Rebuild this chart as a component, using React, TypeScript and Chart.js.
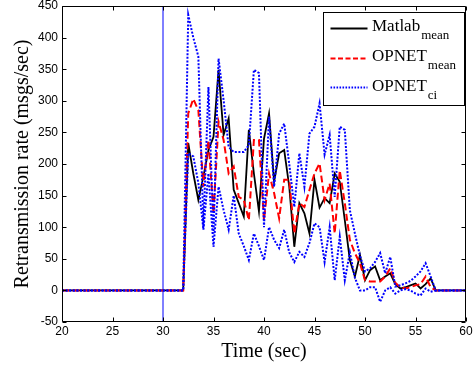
import React, { useEffect, useRef } from "react";
import { Chart, registerables } from "chart.js";

Chart.register(...registerables);

// Time axis (sec)
const times = [
  20, 32, 32.5, 33, 33.5, 34, 34.5, 35, 35.5, 36, 36.5, 37, 37.5, 38, 38.5, 39, 39.5,
  40, 40.5, 41, 41.5, 42, 42.5, 43, 43.5, 44, 44.5, 45, 45.5, 46, 46.5, 47, 47.5,
  48, 48.5, 49, 49.5, 50, 50.5, 51, 51.5, 52, 52.5, 53, 53.5, 54, 54.5, 55, 55.5,
  56, 56.5, 57, 60,
];

const matlabMean = [
  0, 0, 233, 185, 143, 180, 222, 243, 349, 246, 272, 159, 138, 117, 254, 185, 125,
  240, 280, 172, 217, 222, 164, 69, 138, 122, 90, 175, 131, 146, 138, 185, 172,
  111, 48, 22, 56, 16, 32, 38, 16, 22, 27, 10, 3, 5, 8, 11, 3, 10, 19, 0, 0,
];

const opnetMean = [
  0, 0, 280, 303, 285, 164, 238, 122, 267, 238, 185, 196, 148, 143, 111, 238, 238,
  111, 185, 154, 114, 175, 175, 90, 138, 132, 159, 185, 201, 143, 169, 90, 190,
  138, 80, 59, 43, 16, 14, 14, 14, 22, 35, 12, 5, 3, 5, 8, 10, 22, 5, 0, 0,
];

const opnetCiUpper = [
  0, 0, 436, 400, 370, 100, 322, 90, 367, 301, 227, 219, 219, 219, 230, 349, 344,
  100, 275, 164, 248, 264, 200, 132, 217, 164, 248, 259, 296, 215, 246, 148, 259,
  254, 127, 90, 55, 30, 35, 45, 59, 27, 53, 6, 8, 11, 15, 22, 30, 43, 22, 0, 0,
];

const opnetCiLower = [
  0, 0, 217, 212, 170, 96, 185, 69, 164, 127, 96, 150, 90, 70, 48, 90, 70,
  48, 100, 80, 67, 96, 60, 45, 61, 53, 75, 106, 100, 45, 100, 16, 85,
  16, 60, 20, 0, 0, 5, 5, -18, 0, 5, -5, 0, 2, 0, -5, -8, 3, -2, 0, 0,
];

// Vertical marker at t = 30 s
const markerTime = [30, 30];
const markerValue = [-50, 450];

const xTicks = [20, 25, 30, 35, 40, 45, 50, 55, 60];
const yTicks = [-50, 0, 50, 100, 150, 200, 250, 300, 350, 400, 450];

const legendNames = ["Matlab", "OPNET", "OPNET"];
const legendSubs = ["mean", "mean", "ci"];
const legendColors = ["#000000", "#ff0000", "#0000ff"];
const legendDashes = [[], [5, 2.5], [1.6, 1.4]];

export default function App() {
  const ref = useRef<HTMLCanvasElement>(null);

  useEffect(() => {
    document.body.style.margin = "0";
    const canvas = ref.current;
    if (!canvas) return;

    const pts = (ys: number[]) => times.map((t, i) => ({ x: t, y: ys[i] }));

    const boxPlugin = {
      id: "matlabBox",
      afterDatasetsDraw(chart: any) {
        const { ctx, chartArea: a, scales } = chart;
        const L = Math.round(a.left) + 0.5;
        const R = Math.round(a.right) - 0.5;
        const T = Math.round(a.top) + 0.5;
        const B = Math.round(a.bottom) - 0.5;
        ctx.save();
        ctx.strokeStyle = "#000";
        ctx.lineWidth = 1;
        ctx.setLineDash([]);
        ctx.beginPath();
        ctx.moveTo(L, T);
        ctx.lineTo(R, T);
        ctx.lineTo(R, B);
        ctx.lineTo(L, B);
        ctx.closePath();
        ctx.stroke();
        const tl = 4;
        ctx.beginPath();
        xTicks.forEach((v) => {
          const px = Math.round(scales.x.getPixelForValue(v)) + 0.5;
          ctx.moveTo(px, B);
          ctx.lineTo(px, B - tl);
          ctx.moveTo(px, T);
          ctx.lineTo(px, T + tl);
        });
        yTicks.forEach((v) => {
          const py = Math.round(scales.y.getPixelForValue(v)) + 0.5;
          ctx.moveTo(L, py);
          ctx.lineTo(L + tl, py);
          ctx.moveTo(R, py);
          ctx.lineTo(R - tl, py);
        });
        ctx.stroke();

        // Legend
        const x0 = Math.round(a.right) - 143 + 0.5;
        const y0 = Math.round(a.top) + 6.5;
        const w = 141;
        const h = 93;
        ctx.fillStyle = "#fff";
        ctx.fillRect(x0, y0, w, h);
        ctx.strokeStyle = "#000";
        ctx.lineWidth = 1;
        ctx.strokeRect(x0, y0, w, h);
        const rowLine = [16, 46, 75];
        const rowBase = [18.5, 48.5, 78.5];
        legendNames.forEach((name, i) => {
          ctx.save();
          ctx.strokeStyle = legendColors[i];
          ctx.lineWidth = i === 0 ? 1.8 : 2;
          ctx.setLineDash(legendDashes[i]);
          ctx.beginPath();
          ctx.moveTo(x0 + 7, y0 + rowLine[i]);
          ctx.lineTo(x0 + 44, y0 + rowLine[i]);
          ctx.stroke();
          ctx.restore();
          ctx.fillStyle = "#000";
          ctx.textAlign = "left";
          ctx.textBaseline = "alphabetic";
          ctx.font = "17px 'Liberation Serif'";
          const tx = x0 + 48.5;
          ctx.fillText(name, tx, y0 + rowBase[i]);
          const tw = ctx.measureText(name).width;
          ctx.font = "13px 'Liberation Serif'";
          ctx.fillText(legendSubs[i], tx + tw + 1, y0 + rowBase[i] + 7.5);
        });
        ctx.restore();
      },
    };

    const chart = new Chart(canvas, {
      type: "line",
      data: {
        datasets: [
          {
            label: "OPNET_ci upper",
            data: pts(opnetCiUpper),
            borderColor: "#0000ff",
            borderWidth: 2,
            borderDash: [2, 1.6],
            pointRadius: 0,
            tension: 0,
            order: 0,
          },
          {
            label: "OPNET_ci lower",
            data: pts(opnetCiLower),
            borderColor: "#0000ff",
            borderWidth: 2,
            borderDash: [2, 1.6],
            pointRadius: 0,
            tension: 0,
            order: 0,
          },
          {
            label: "OPNET_mean",
            data: pts(opnetMean),
            borderColor: "#ff0000",
            borderWidth: 2,
            borderDash: [7, 3.5],
            pointRadius: 0,
            tension: 0,
            order: 1,
          },
          {
            label: "Matlab_mean",
            data: pts(matlabMean),
            borderColor: "#000000",
            borderWidth: 1.8,
            pointRadius: 0,
            tension: 0,
            order: 2,
          },
          {
            label: "marker",
            data: markerTime.map((t, i) => ({ x: t, y: markerValue[i] })),
            borderColor: "#0000ff",
            borderWidth: 1,
            pointRadius: 0,
            order: 3,
          },
        ],
      },
      options: {
        animation: false,
        responsive: false,
        devicePixelRatio: 1,
        layout: { padding: { top: 6, right: 8, left: 0, bottom: 0 } },
        plugins: { legend: { display: false }, tooltip: { enabled: false } },
        scales: {
          x: {
            type: "linear",
            min: 20,
            max: 60,
            grid: { display: false, drawTicks: false },
            border: { display: false },
            ticks: {
              stepSize: 5,
              autoSkip: false,
              maxRotation: 0,
              padding: 4,
              color: "#000",
              font: { family: "'Liberation Sans'", size: 12, lineHeight: 1 },
            },
            afterFit: (s: any) => {
              s.height = 47;
              s.paddingLeft = 0;
              s.paddingRight = 0;
              s.paddingTop = 0;
              s.paddingBottom = 0;
            },
            title: {
              display: true,
              text: "Time (sec)",
              color: "#000",
              font: { family: "'Liberation Serif'", size: 20 },
              padding: { top: 0, bottom: 5 },
            },
          },
          y: {
            type: "linear",
            min: -50,
            max: 450,
            grid: { display: false, drawTicks: false },
            border: { display: false },
            ticks: {
              stepSize: 50,
              autoSkip: false,
              padding: 4,
              color: "#000",
              font: { family: "'Liberation Sans'", size: 12, lineHeight: 1 },
            },
            afterFit: (s: any) => {
              s.width = 62;
              s.paddingLeft = 0;
              s.paddingRight = 0;
              s.paddingTop = 0;
              s.paddingBottom = 0;
            },
            title: {
              display: true,
              text: "Retransmission rate (msgs/sec)",
              color: "#000",
              font: { family: "'Liberation Serif'", size: 20 },
              padding: { top: 11, bottom: 0 },
            },
          },
        },
      },
      plugins: [boxPlugin],
    });

    return () => chart.destroy();
  }, []);

  return (
    <div style={{ width: 474, height: 369, background: "#fff" }}>
      <canvas ref={ref} width={474} height={369} style={{ display: "block" }} />
    </div>
  );
}
